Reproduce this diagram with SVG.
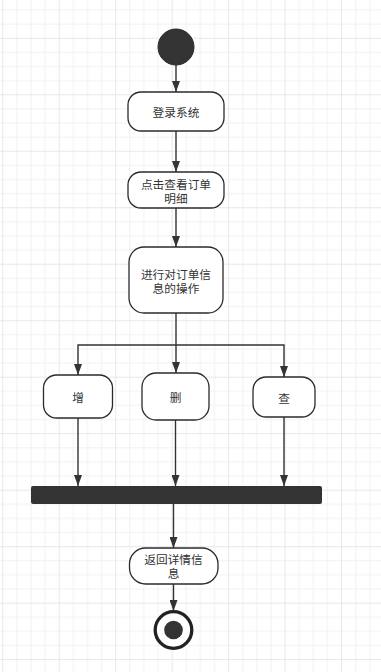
<svg xmlns="http://www.w3.org/2000/svg" width="381" height="672" viewBox="0 0 381 672">
  <style>
    .box { fill: #ffffff; stroke: #2b2b2b; stroke-width: 1.3; }
    .lbl { font-family: "Noto Sans CJK SC", "Noto Sans", sans-serif; font-size: 11.7px; fill: #333333; text-anchor: middle; dominant-baseline: central; }
    .edge { fill: none; stroke: #333333; stroke-width: 1.4; }
  </style>
  <defs>
    <pattern id="grid" patternUnits="userSpaceOnUse" x="2.2" y="37.8" width="56.48" height="56.48">
      <rect x="0" y="0" width="56.48" height="56.48" fill="#ffffff"/>
      <g fill="#f2f2f2">
        <rect x="14.12" y="0" width="1" height="56.48"/>
        <rect x="28.24" y="0" width="1" height="56.48"/>
        <rect x="42.36" y="0" width="1" height="56.48"/>
        <rect x="0" y="14.12" width="56.48" height="1"/>
        <rect x="0" y="28.24" width="56.48" height="1"/>
        <rect x="0" y="42.36" width="56.48" height="1"/>
      </g>
      <g fill="#e8e8e8">
        <rect x="0" y="0" width="1" height="56.48"/>
        <rect x="0" y="0" width="56.48" height="1"/>
      </g>
    </pattern>
    <marker id="arr" markerUnits="userSpaceOnUse" viewBox="0 0 11 8" markerWidth="11" markerHeight="8" refX="11" refY="4" orient="auto">
      <path d="M0,0 L11,4 L0,8 Z" fill="#333333"/>
    </marker>
  </defs>
  <rect x="0" y="0" width="381" height="672" fill="url(#grid)"/>

  <g id="connectors">
    <path class="edge" d="M176,65 L176,92" marker-end="url(#arr)"/>
    <path class="edge" d="M176,131 L176,172" marker-end="url(#arr)"/>
    <path class="edge" d="M176,208 L176,247" marker-end="url(#arr)"/>
    <path class="edge" d="M176,313 L176,373" marker-end="url(#arr)"/>
    <path class="edge" d="M176,345 L78,345 L78,375" marker-end="url(#arr)"/>
    <path class="edge" d="M176,345 L284,345 L284,377" marker-end="url(#arr)"/>
    <path class="edge" d="M78,418 L78,486" marker-end="url(#arr)"/>
    <path class="edge" d="M175.5,420 L175.5,486" marker-end="url(#arr)"/>
    <path class="edge" d="M284,417 L284,486" marker-end="url(#arr)"/>
    <path class="edge" d="M173.5,504 L173.5,548" marker-end="url(#arr)"/>
    <path class="edge" d="M173.5,584 L173.5,611" marker-end="url(#arr)"/>
  </g>

  <g id="start">
    <circle cx="176" cy="47" r="18" fill="#333333" stroke="#2b2b2b" stroke-width="1"/>
  </g>

  <g id="login">
    <rect class="box" x="128" y="92" width="96" height="39" rx="13" ry="13"/>
    <text class="lbl" x="176" y="111.5">登录系统</text>
  </g>

  <g id="view">
    <rect class="box" x="128" y="172" width="96" height="36" rx="13" ry="13"/>
    <text class="lbl" x="176" y="183.3">点击查看订单<tspan x="176" dy="14">明细</tspan></text>
  </g>

  <g id="operate">
    <rect class="box" x="129" y="247" width="94" height="66" rx="15" ry="15"/>
    <text class="lbl" x="176" y="273.3">进行对订单信<tspan x="176" dy="14">息的操作</tspan></text>
  </g>

  <g id="add">
    <rect class="box" x="43.5" y="375" width="69" height="43" rx="13" ry="13"/>
    <text class="lbl" x="78" y="396.5">增</text>
  </g>

  <g id="delete">
    <rect class="box" x="142" y="373" width="67" height="47" rx="14" ry="14"/>
    <text class="lbl" x="175.5" y="396.5">删</text>
  </g>

  <g id="query">
    <rect class="box" x="253" y="377" width="62" height="40" rx="13" ry="13"/>
    <text class="lbl" x="284" y="397">查</text>
  </g>

  <g id="join">
    <rect x="31" y="486" width="291" height="18" rx="2" ry="2" fill="#333333"/>
  </g>

  <g id="result">
    <rect class="box" x="129.5" y="548" width="88.5" height="36" rx="16" ry="16"/>
    <text class="lbl" x="173.5" y="558.8">返回详情信<tspan x="173.5" dy="13.5">息</tspan></text>
  </g>

  <g id="end">
    <circle cx="173.5" cy="630" r="18.3" fill="#ffffff" stroke="#1f2326" stroke-width="3.3"/>
    <circle cx="173.5" cy="630" r="9.3" fill="#333333"/>
  </g>
</svg>
